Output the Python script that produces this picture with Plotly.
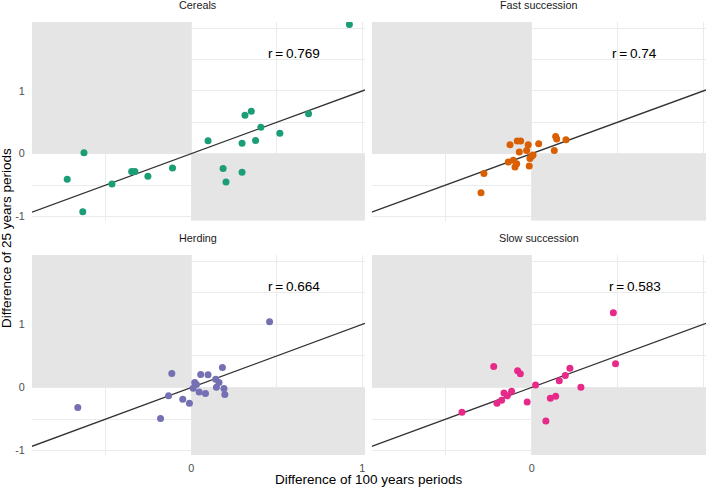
import plotly.graph_objects as go
from plotly.subplots import make_subplots

# ---------------- data ----------------
panels = ["Cereals", "Fast succession", "Herding", "Slow succession"]
colors = ["#1B9E77", "#D95F02", "#7570B3", "#E7298A"]
r_values = ["0.769", "0.74", "0.664", "0.583"]

cereals_x = [0.925, -0.726, -0.628, -0.635, -0.464, -0.349, -0.330, -0.254, -0.110, 0.098,
             0.186, 0.203, 0.297, 0.297, 0.314, 0.351, 0.376, 0.407, 0.518, 0.686]
cereals_y = [2.06, -0.408, 0.016, -0.927, -0.482, -0.286, -0.286, -0.360, -0.228, 0.206,
             -0.238, -0.450, -0.297, 0.168, 0.613, 0.676, 0.211, 0.422, 0.327, 0.635]

fast_x = [-0.295, -0.278, -0.136, -0.126, -0.107, -0.097, -0.087, -0.084, -0.064, -0.072, -0.029,
          -0.020, -0.014, -0.010, 0.000, 0.008, 0.041, 0.132, 0.140, 0.146, 0.200]
fast_y = [-0.625, -0.317, -0.133, 0.143, -0.106, -0.212, -0.159, 0.200, 0.200, 0.025, 0.052,
          0.143, -0.197, -0.079, -0.043, -0.022, 0.159, 0.052, 0.275, 0.232, 0.222]

herding_x = [-0.664, 0.458, -0.114, -0.133, -0.180, -0.050, -0.011, 0.011, 0.020, 0.030,
             0.046, 0.055, 0.083, 0.098, 0.143, 0.147, 0.162, 0.182, 0.191, 0.196]
herding_y = [-0.317, 1.040, 0.222, -0.133, -0.492, -0.186, -0.249, -0.011, 0.079, 0.048,
             -0.070, 0.206, -0.095, 0.200, 0.132, 0.005, 0.079, 0.317, -0.016, -0.111]

slow_x = [-0.406, -0.221, -0.202, -0.175, -0.161, -0.142, -0.117, -0.082, -0.066, -0.026,
          0.023, 0.083, 0.109, 0.140, 0.161, 0.196, 0.223, 0.287, 0.476, 0.489]
slow_y = [-0.392, 0.333, -0.249, -0.202, -0.086, -0.133, -0.059, 0.264, 0.216, -0.229,
          0.041, -0.530, -0.170, -0.138, 0.105, 0.190, 0.306, 0.005, 1.184, 0.375]

xs = [cereals_x, fast_x, herding_x, slow_x]
ys = [cereals_y, fast_y, herding_y, slow_y]

x_ticks = [0, 1]
y_ticks = [-1, 0, 1]
X_RANGE = [-0.932, 1.016]
Y_RANGE = [-1.07, 2.10]
R_POS = (0.6, 1.6)

FONT = "Liberation Sans, Arial, Helvetica, sans-serif"
THIN = "\u2009"

# ---------------- figure ----------------
fig = make_subplots(rows=2, cols=2)

domains_x = [[0, 0.494], [0.504, 1.0]]
domains_y = [[0.541, 1.0], [0.0, 0.462]]

for i in range(4):
    row, col = i // 2 + 1, i % 2 + 1
    sfx = "" if i == 0 else str(i + 1)
    xref, yref = "x" + sfx, "y" + sfx

    # shaded quadrants (drawn between grid and traces)
    fig.add_shape(type="rect", xref=xref, yref=yref, x0=X_RANGE[0], x1=0, y0=0, y1=Y_RANGE[1],
                  fillcolor="#e5e5e5", line_width=0, layer="between")
    fig.add_shape(type="rect", xref=xref, yref=yref, x0=0, x1=X_RANGE[1], y0=Y_RANGE[0], y1=0,
                  fillcolor="#e5e5e5", line_width=0, layer="between")

    # 1:1 line
    fig.add_trace(go.Scatter(x=X_RANGE, y=X_RANGE, mode="lines",
                             line=dict(color="#333333", width=1.3),
                             hoverinfo="skip", showlegend=False), row=row, col=col)
    # points
    fig.add_trace(go.Scatter(x=xs[i], y=ys[i], mode="markers",
                             marker=dict(color=colors[i], size=7, line_width=0),
                             name=panels[i], showlegend=False), row=row, col=col)

    # r annotation
    fig.add_annotation(x=R_POS[0], y=R_POS[1], xref=xref, yref=yref,
                       text="r" + THIN + "=" + THIN + r_values[i],
                       showarrow=False, xanchor="center", yanchor="middle",
                       font=dict(family=FONT, size=13.6, color="#000000"))
    # strip title
    fig.add_annotation(x=0.5, y=1, xref=xref + " domain", yref=yref + " domain",
                       text=panels[i], showarrow=False, xanchor="center", yanchor="middle",
                       yshift=17, font=dict(family=FONT, size=10.8, color="#1a1a1a"))

    fig.update_xaxes(row=row, col=col, domain=domains_x[col - 1], range=X_RANGE,
                     automargin=False,
                     tickmode="array", tickvals=x_ticks, ticktext=[str(v) for v in x_ticks],
                     showticklabels=(row == 2), showgrid=True, gridcolor="#ebebeb", gridwidth=1.1,
                     zeroline=False, showline=False, ticks="outside", ticklen=3,
                     tickcolor="rgba(0,0,0,0)",
                     tickfont=dict(family=FONT, size=10.8, color="#4d4d4d"),
                     minor=dict(tickmode="linear", tick0=0, dtick=0.5, showgrid=True,
                                gridcolor="#ebebeb", gridwidth=0.6, ticks=""))
    fig.update_yaxes(row=row, col=col, domain=domains_y[row - 1], range=Y_RANGE,
                     automargin=False,
                     tickmode="array", tickvals=y_ticks, ticktext=[str(v) for v in y_ticks],
                     showticklabels=(col == 1), showgrid=True, gridcolor="#ebebeb", gridwidth=1.1,
                     zeroline=False, showline=False, ticks="outside", ticklen=4,
                     tickcolor="rgba(0,0,0,0)",
                     tickfont=dict(family=FONT, size=10.8, color="#4d4d4d"),
                     minor=dict(tickmode="linear", tick0=0, dtick=0.5, showgrid=True,
                                gridcolor="#ebebeb", gridwidth=0.6, ticks=""))

# axis titles
fig.add_annotation(x=0.5, y=-0.057, xref="paper", yref="paper",
                   text="Difference of 100 years periods", showarrow=False,
                   xanchor="center", yanchor="middle",
                   font=dict(family=FONT, size=13.5, color="#000000"))
fig.add_annotation(x=-0.0385, y=0.501, xref="paper", yref="paper",
                   text="Difference of 25 years periods", showarrow=False, textangle=-90,
                   xanchor="center", yanchor="middle",
                   font=dict(family=FONT, size=13.5, color="#000000"))

fig.update_layout(width=706, height=487, margin=dict(l=32, r=0, t=22, b=32, autoexpand=False),
                  paper_bgcolor="white", plot_bgcolor="white", showlegend=False,
                  font=dict(family=FONT))

fig.write_html("out.html", config={"displayModeBar": False},
               post_script="document.body.style.margin='0';document.body.style.overflow='hidden';")
